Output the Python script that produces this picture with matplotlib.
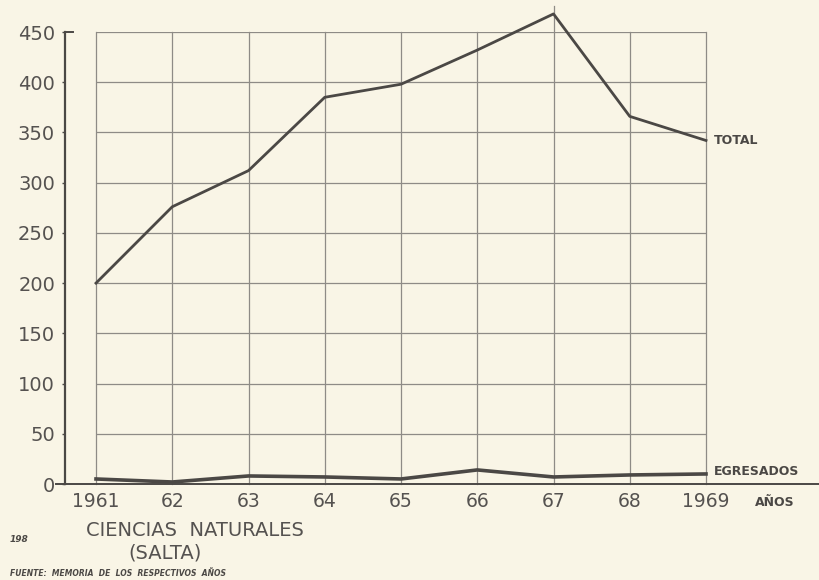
import matplotlib
matplotlib.use("Agg")
import matplotlib.pyplot as plt

# Enrolment data, Ciencias Naturales (Salta), 1961-1969
years = [1961, 1962, 1963, 1964, 1965, 1966, 1967, 1968, 1969]
year_labels = ["1961", "62", "63", "64", "65", "66", "67", "68", "1969"]
total = [200, 276, 312, 385, 398, 432, 468, 366, 342]
egresados = [5, 2, 8, 7, 5, 14, 7, 9, 10]
y_ticks = [0, 50, 100, 150, 200, 250, 300, 350, 400, 450]

paper = "#f9f5e6"
ink = "#4b4845"
grid_ink = "#8e8b86"

plt.rcParams["font.family"] = ["DejaVu Sans"]

fig = plt.figure(figsize=(8.2, 5.8), dpi=100, facecolor=paper)
ax = fig.add_axes([96 / 820, (580 - 484) / 580, 610 / 820, 452 / 580])
ax.set_facecolor(paper)

ax.set_xlim(years[0], years[-1])
ax.set_ylim(0, 450)

# grid
for yv in y_ticks[1:]:
    ax.plot([years[0], years[-1]], [yv, yv], color=grid_ink, lw=0.9, zorder=1)
for xv in years:
    top = 476 if xv == 1967 else 450
    ax.plot([xv, xv], [0, top], color=grid_ink, lw=0.9, zorder=1, clip_on=False)

# series
ax.plot(years, total, color=ink, lw=2.0, zorder=3, clip_on=False)
ax.plot(years, egresados, color=ink, lw=2.6, zorder=3, clip_on=False)

# spines / axes
for s in ["top", "right", "bottom"]:
    ax.spines[s].set_visible(False)
ax.spines["left"].set_position(("axes", -31 / 610))
ax.spines["left"].set_color(ink)
ax.spines["left"].set_linewidth(1.6)

ax.plot([-0.066, 1.2], [0, 0], transform=ax.get_yaxis_transform(),
        color=ink, lw=1.4, clip_on=False, zorder=2)
ax.plot([-31 / 610, -23 / 610], [450, 450], transform=ax.get_yaxis_transform(),
        color=ink, lw=1.4, clip_on=False, zorder=2)

ax.set_yticks(y_ticks)
ax.set_yticklabels([str(v) for v in y_ticks])
ax.tick_params(axis="y", direction="out", length=2.2, width=1, color=ink,
               labelsize=14, labelcolor="#555250", pad=5)
ax.set_xticks(years)
ax.set_xticklabels(year_labels)
ax.tick_params(axis="x", length=0, labelsize=13.5, labelcolor="#555250", pad=6)

# labels
ax.text(1969.1, 342, "TOTAL", fontsize=9, fontweight="bold", color=ink,
        va="center", ha="left", clip_on=False)
ax.text(1969.1, 12, "EGRESADOS", fontsize=9, fontweight="bold", color=ink,
        va="center", ha="left", clip_on=False)
fig.text(755 / 820, 1 - 503 / 580, "AÑOS", fontsize=9, fontweight="bold",
         color=ink, va="center", ha="left")

fig.text(195 / 820, 1 - 530 / 580, "CIENCIAS  NATURALES", fontsize=14,
         color="#555250", va="center", ha="center")
fig.text(165 / 820, 1 - 553 / 580, "(SALTA)", fontsize=14,
         color="#555250", va="center", ha="center")
fig.text(10 / 820, 1 - 540 / 580, "198", fontsize=6.5, fontweight="bold",
         fontstyle="italic", color=ink, va="center", ha="left")
fig.text(10 / 820, 1 - 573 / 580, "FUENTE:  MEMORIA  DE  LOS  RESPECTIVOS  AÑOS",
         fontsize=5.5, fontweight="bold", fontstyle="italic", color=ink,
         va="center", ha="left")

fig.savefig("out.png", dpi=100, facecolor=paper)
